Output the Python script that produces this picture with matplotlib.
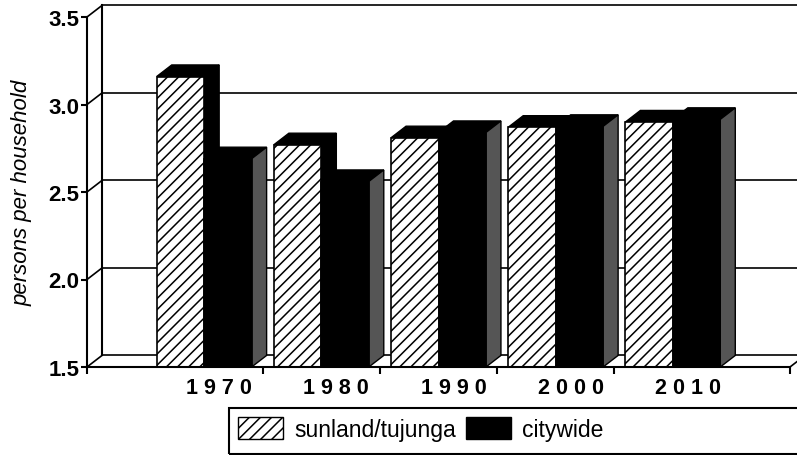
import numpy as np
import matplotlib
matplotlib.use('Agg')
import matplotlib.pyplot as plt
from matplotlib.patches import Polygon, Patch, Rectangle

plt.rcParams['font.family'] = ['Liberation Sans', 'DejaVu Sans']
plt.rcParams['hatch.linewidth'] = 1.1

# Data
years = ['1970', '1980', '1990', '2000', '2010']
sunland = [3.16, 2.77, 2.81, 2.87, 2.90]
citywide = [2.69, 2.56, 2.84, 2.875, 2.915]
yticks = [1.5, 2.0, 2.5, 3.0, 3.5]

# fake 3d look: depth offset in data units, bar width
dx, dy = 0.128, 0.066
w = 0.405
ymin, ymax = 1.5, 3.5
xmin, xmax = -1, 5

fig = plt.figure(figsize=(7.97, 4.56), dpi=100)
ax = fig.add_axes([87/797, 88/456, 703/797, 350/456])
ax.set_xlim(xmin, xmax)
ax.set_ylim(ymin, ymax)

lw = 1.5

# back wall, floor and left wall
for v in yticks:
    ax.plot([xmin + dx, xmax + dx + 1], [v + dy, v + dy], color='black', lw=1.2, zorder=1, clip_on=False)
    ax.plot([xmin, xmin + dx], [v, v + dy], color='black', lw=1.2, zorder=1, clip_on=False)
ax.plot([xmin + dx, xmin + dx], [ymin + dy, ymax + dy], color='black', lw=lw, zorder=1, clip_on=False)
ax.plot([xmax, xmax + dx], [ymin, ymin + dy], color='black', lw=1.2, zorder=1, clip_on=False)

x = np.arange(len(years))
sun = np.array(sunland)
city = np.array(citywide)

for i in range(len(years)):
    c = x[i]
    s = sun[i]
    t = city[i]
    # sunland top and side
    ax.add_patch(Polygon([(c - w, s), (c - w + dx, s + dy), (c + dx, s + dy), (c, s)],
                         closed=True, facecolor='black', edgecolor='black', lw=1, zorder=2))
    ax.add_patch(Polygon([(c, ymin), (c + dx, ymin + dy), (c + dx, s + dy), (c, s)],
                         closed=True, facecolor='black', edgecolor='black', lw=1, zorder=2))
    # citywide top and side
    ax.add_patch(Polygon([(c, t), (c + dx, t + dy), (c + w + dx, t + dy), (c + w, t)],
                         closed=True, facecolor='black', edgecolor='black', lw=1, zorder=4))
    ax.add_patch(Polygon([(c + w, ymin), (c + w + dx, ymin + dy), (c + w + dx, t + dy), (c + w, t)],
                         closed=True, facecolor='#555555', edgecolor='black', lw=1, zorder=4))

ax.bar(x - w, sun - ymin, w, bottom=ymin, align='edge', color='white', hatch='///',
       edgecolor='black', linewidth=1.2, zorder=3)
ax.bar(x, city - ymin, w, bottom=ymin, align='edge', color='black',
       edgecolor='black', linewidth=1.2, zorder=5)

# axes
for side in ['top', 'right']:
    ax.spines[side].set_visible(False)
ax.spines['left'].set_linewidth(lw)
ax.spines['bottom'].set_linewidth(lw)
ax.spines['left'].set_zorder(6)
ax.spines['bottom'].set_zorder(6)

ax.set_yticks(yticks)
ax.set_yticklabels(['%.1f' % v for v in yticks], fontsize=16, fontweight='bold')
ax.tick_params(axis='y', length=4.5, width=lw, pad=1)

ax.set_xticks(x + dx)
ax.set_xticklabels([' '.join(y) for y in years], fontsize=15.5, fontweight='bold')
ax.set_xticks([-1, 0.5, 1.5, 2.5, 3.5, 5], minor=True)
ax.tick_params(axis='x', which='major', length=0, pad=7.5)
ax.tick_params(axis='x', which='minor', length=5, width=lw)

ax.set_ylabel('persons per household', fontsize=16, style='italic')
ax.yaxis.set_label_coords(-0.078, 0.5)

# legend
handles = [Patch(facecolor='white', hatch='///', edgecolor='black', label='sunland/tujunga'),
           Patch(facecolor='black', edgecolor='black', label='citywide')]
fig.legend(handles=handles, loc='center left', bbox_to_anchor=(238/797, 26/456),
           bbox_transform=fig.transFigure, ncol=2, frameon=False, fontsize=16.5,
           handlelength=1.95, handleheight=1.05, handletextpad=0.5, columnspacing=0.45,
           borderpad=0, borderaxespad=0)
fig.patches.append(Rectangle((229/797, 1/456), 600/797, 46/456, transform=fig.transFigure,
                             fill=False, edgecolor='black', lw=1.5))

plt.savefig('out.png', dpi=100)
plt.close()
